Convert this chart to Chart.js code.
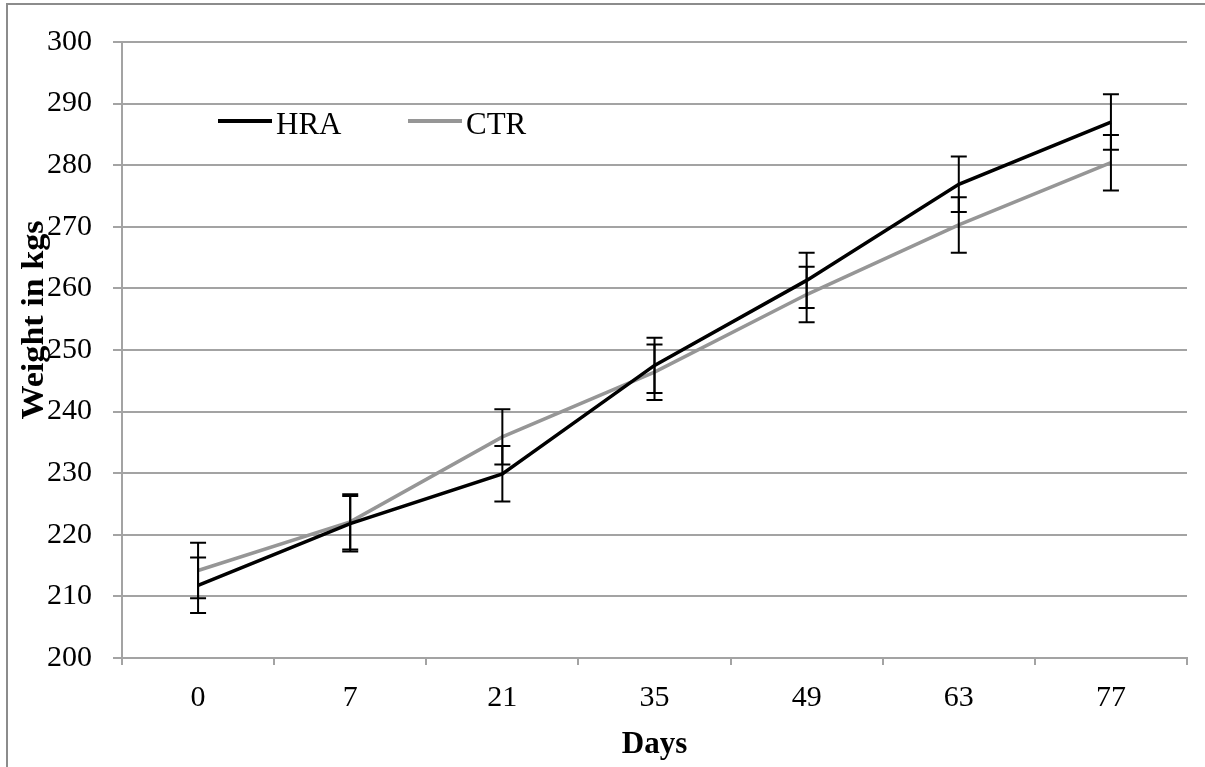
<!DOCTYPE html>
<html>
<head>
<meta charset="utf-8">
<script src="https://cdn.jsdelivr.net/npm/chart.js@4.4.1/dist/chart.umd.min.js"></script>
<style>
  html, body { margin: 0; padding: 0; background: #fff; }
</style>
</head>
<body>
<canvas id="weightChart" width="1205" height="767"></canvas>
<script>
// data
const days = ['0', '7', '21', '35', '49', '63', '77'];
const hraWeight = [211.8, 221.8, 229.9, 247.5, 261.3, 276.9, 287.0];
const ctrWeight = [214.2, 222.1, 235.9, 246.4, 259.0, 270.3, 280.4];
const hraError = [4.5, 4.5, 4.5, 4.5, 4.5, 4.5, 4.5];
const ctrError = [4.5, 4.5, 4.5, 4.5, 4.5, 4.5, 4.5];
const yTitle = 'Weight in kgs';
const xTitle = 'Days';

const serif = "'Liberation Serif', 'Times New Roman', serif";
const gridColor = '#a3a3a3';

Chart.defaults.font.family = serif;
Chart.defaults.font.size = 30;
Chart.defaults.color = '#000';

// white page + the grey frame round the chart
const framePlugin = {
    id: 'frame',
    beforeDraw(chart) {
        const c = chart.ctx;
        c.save();
        c.fillStyle = '#fff';
        c.fillRect(0, 0, chart.width, chart.height);
        c.strokeStyle = '#8c8c8c';
        c.lineWidth = 2;
        c.strokeRect(7, 4, chart.width + 20, chart.height + 20);
        c.restore();
    }
};

const errorBarPlugin = {
    id: 'errorBars',
    afterDatasetsDraw(chart) {
        const c = chart.ctx;
        const y = chart.scales.y;
        c.save();
        c.strokeStyle = '#000';
        c.lineWidth = 2;
        chart.data.datasets.forEach((ds, d) => {
            const meta = chart.getDatasetMeta(d);
            ds.data.forEach((v, i) => {
                const x = meta.data[i].x;
                const top = y.getPixelForValue(v + ds.errors[i]);
                const bot = y.getPixelForValue(v - ds.errors[i]);
                c.beginPath();
                c.moveTo(x, top); c.lineTo(x, bot);
                c.moveTo(x - 8, top); c.lineTo(x + 8, top);
                c.moveTo(x - 8, bot); c.lineTo(x + 8, bot);
                c.stroke();
            });
        });
        c.restore();
    }
};

// legend inside the plot and the y title that overlaps the tick labels
const labelsPlugin = {
    id: 'labels',
    afterDraw(chart) {
        const c = chart.ctx;
        const area = chart.chartArea;
        c.save();
        const starts = [96, 286];
        chart.data.datasets.forEach((ds, d) => {
            const x0 = area.left + starts[d];
            const ly = area.top + 79;
            c.strokeStyle = ds.borderColor;
            c.lineWidth = 4;
            c.beginPath();
            c.moveTo(x0, ly); c.lineTo(x0 + 54, ly);
            c.stroke();
            c.fillStyle = '#000';
            c.font = '31px ' + serif;
            c.textBaseline = 'alphabetic';
            c.textAlign = 'left';
            c.fillText(ds.label, x0 + 58, ly + 13);
        });
        c.translate(43, 320);
        c.rotate(-Math.PI / 2);
        c.scale(1.1, 1);
        c.font = 'bold 31px ' + serif;
        c.textAlign = 'center';
        c.textBaseline = 'alphabetic';
        c.fillText(yTitle, 0, 0);
        c.restore();
    }
};

new Chart(document.getElementById('weightChart'), {
    type: 'line',
    data: {
        labels: days,
        datasets: [{
            label: 'HRA',
            data: hraWeight,
            errors: hraError,
            borderColor: '#000',
            borderWidth: 3.5,
            pointRadius: 0,
            tension: 0
        }, {
            label: 'CTR',
            data: ctrWeight,
            errors: ctrError,
            borderColor: '#969696',
            borderWidth: 3.5,
            pointRadius: 0,
            tension: 0
        }]
    },
    options: {
        responsive: false,
        animation: false,
        layout: {
            padding: { left: 0, top: 42, right: 18, bottom: 0 }
        },
        plugins: {
            legend: { display: false },
            tooltip: { enabled: false }
        },
        scales: {
            x: {
                offset: true,
                grid: { offset: true, drawOnChartArea: false, color: gridColor, lineWidth: 2, tickLength: 7 },
                border: { color: gridColor, width: 2 },
                ticks: { padding: 15 },
                title: { display: true, text: xTitle, font: { size: 31, weight: 'bold' }, padding: { top: 0, bottom: 3 } },
                afterFit(s) { s.height = 109; }
            },
            y: {
                min: 200,
                max: 300,
                ticks: { stepSize: 10, padding: 21 },
                grid: { color: gridColor, lineWidth: 2, tickLength: 9 },
                border: { color: gridColor, width: 2 },
                afterFit(s) { s.width = 122; }
            }
        }
    },
    plugins: [framePlugin, errorBarPlugin, labelsPlugin]
});
</script>
</body>
</html>
